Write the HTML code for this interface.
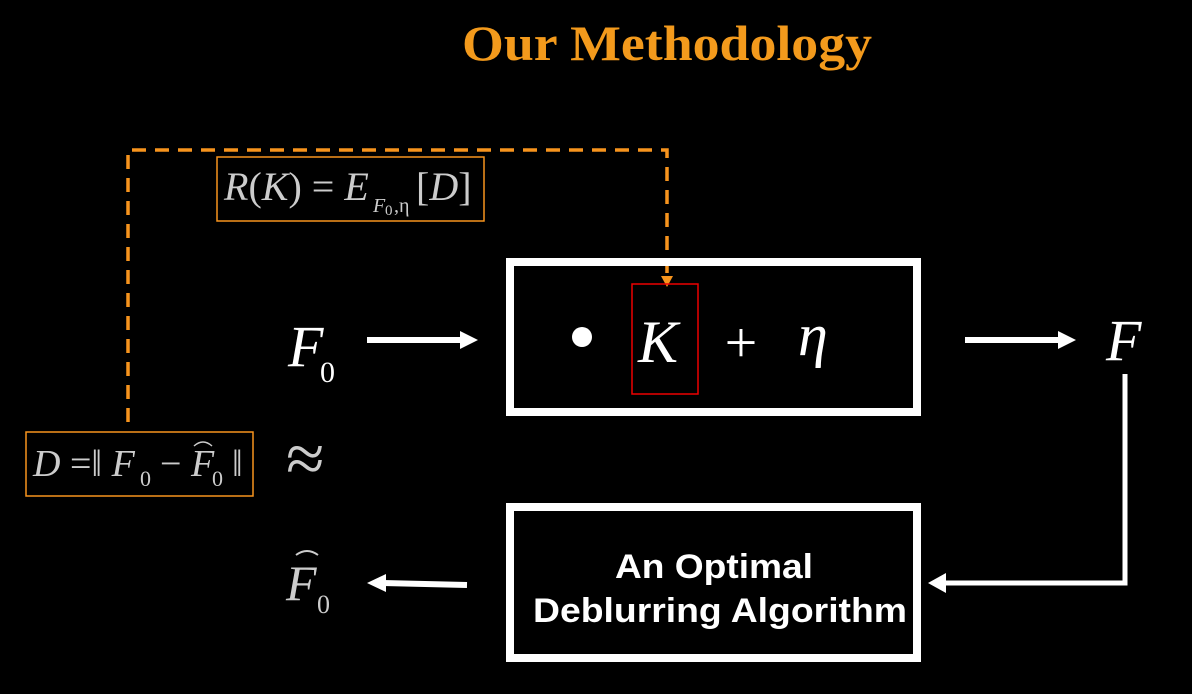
<!DOCTYPE html>
<html><head><meta charset="utf-8"><style>
html,body{margin:0;padding:0;background:#000;}
svg{display:block;}
.m{font-family:"Liberation Serif",serif;font-style:italic;}
.r{font-family:"Liberation Serif",serif;}
</style></head><body>
<svg width="1192" height="694" viewBox="0 0 1192 694" xmlns="http://www.w3.org/2000/svg">
<rect width="1192" height="694" fill="#000"/>
<text x="462" y="60" textLength="410" lengthAdjust="spacingAndGlyphs" font-family="Liberation Serif,serif" font-weight="bold" font-size="50" fill="#f39a1c">Our Methodology</text>
<path d="M128,422 V150 H667 V276" fill="none" stroke="#f7941d" stroke-width="3.5" stroke-dasharray="14,9"/>
<polygon points="661,276 673,276 667,287" fill="#f7941d"/>
<rect x="217" y="157" width="267" height="64" fill="none" stroke="#f7941d" stroke-width="1.5"/>
<text x="224" y="200" font-size="40" fill="#ccc" class="r"><tspan class="m">R</tspan>(<tspan class="m">K</tspan>) = <tspan class="m">E</tspan></text>
<text x="373" y="212" font-size="20" fill="#ccc" class="m">F</text>
<text x="385" y="215" font-size="15" fill="#ccc" class="r">0</text>
<text x="394" y="212" font-size="20" fill="#ccc" class="r">,η</text>
<text x="416" y="200" font-size="40" fill="#ccc" class="r">[<tspan class="m">D</tspan>]</text>
<rect x="26" y="432" width="227" height="64" fill="none" stroke="#f7941d" stroke-width="1.5"/>
<text x="33" y="476" font-size="38" fill="#ccc" class="r"><tspan class="m">D</tspan> =‖ <tspan class="m">F</tspan></text>
<text x="140" y="486" font-size="22" fill="#ccc" class="r">0</text>
<text x="160" y="476" font-size="38" fill="#ccc" class="r">− <tspan class="m">F</tspan></text>
<text x="212" y="486" font-size="22" fill="#ccc" class="r">0</text>
<text x="232" y="476" font-size="38" fill="#ccc" class="r">‖</text>
<path d="M194,446 Q203,438 212,446" fill="none" stroke="#ccc" stroke-width="1.5"/>
<text x="286" y="482" font-size="70" fill="#ccc" class="r">≈</text>
<text x="288" y="366" font-size="58" fill="#fff" class="m">F</text>
<text x="320" y="382" font-size="30" fill="#fff" class="r">0</text>
<line x1="367" y1="340" x2="462" y2="340" stroke="#fff" stroke-width="6"/>
<polygon points="460,331 478,340 460,349" fill="#fff"/>
<rect x="510" y="262" width="407" height="150" fill="none" stroke="#fff" stroke-width="8"/>
<circle cx="582" cy="337" r="10" fill="#fff"/>
<rect x="632" y="284" width="66" height="110" fill="none" stroke="#e00" stroke-width="1.5"/>
<text x="638" y="362" font-size="60" fill="#fff" class="m">K</text>
<text x="741" y="362" text-anchor="middle" font-size="58" fill="#fff" class="r">+</text>
<text x="798" y="355" font-size="60" fill="#fff" class="m">η</text>
<line x1="965" y1="340" x2="1060" y2="340" stroke="#fff" stroke-width="6"/>
<polygon points="1058,331 1076,340 1058,349" fill="#fff"/>
<text x="1106" y="360" font-size="58" fill="#fff" class="m">F</text>
<path d="M1125,374 V583 H944" fill="none" stroke="#fff" stroke-width="5"/>
<polygon points="946,573 928,583 946,593" fill="#fff"/>
<rect x="510" y="507" width="407" height="151" fill="none" stroke="#fff" stroke-width="8"/>
<text x="615" y="578" textLength="198" lengthAdjust="spacingAndGlyphs" font-family="Liberation Sans,sans-serif" font-weight="bold" font-size="34" fill="#fff">An Optimal</text>
<text x="533" y="622" textLength="374" lengthAdjust="spacingAndGlyphs" font-family="Liberation Sans,sans-serif" font-weight="bold" font-size="34" fill="#fff">Deblurring Algorithm</text>
<line x1="467" y1="585" x2="383" y2="583" stroke="#fff" stroke-width="6"/>
<polygon points="386,574 367,583 386,592" fill="#fff"/>
<text x="286" y="600" font-size="50" fill="#ccc" class="m">F</text>
<text x="317" y="613" font-size="26" fill="#ccc" class="r">0</text>
<path d="M296,555 Q307,547 318,555" fill="none" stroke="#ccc" stroke-width="2"/>
</svg>
</body></html>
